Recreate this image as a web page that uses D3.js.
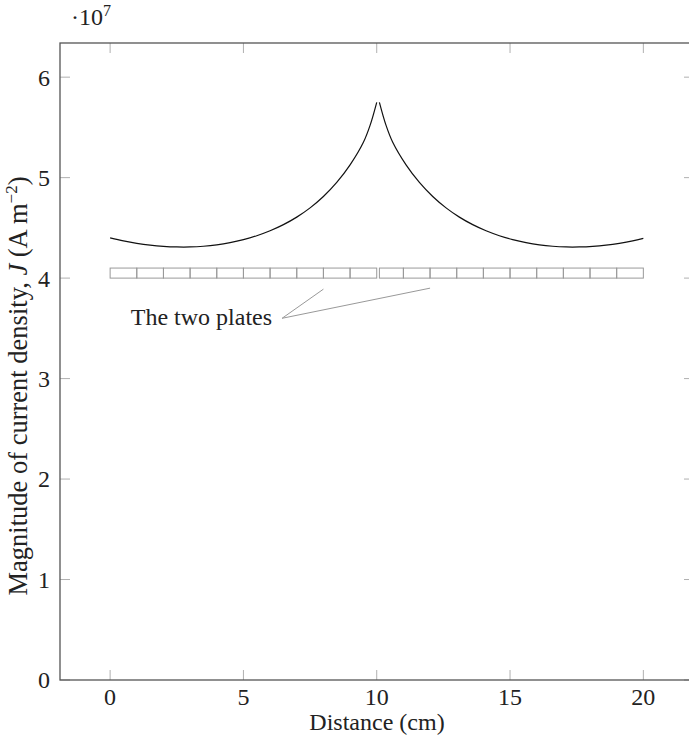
<!DOCTYPE html>
<html>
<head>
<meta charset="utf-8">
<script src="https://cdn.jsdelivr.net/npm/d3@7"></script>
<style>
  body { margin: 0; background: #fff; }
  svg { display: block; font-family: "Liberation Serif", "DejaVu Serif", serif; }
</style>
</head>
<body>
<div id="chart"></div>
<script>
const width = 689;
const height = 742;

// curve on the first plate (distance in cm, J in 1e7 A m^-2)
const leftX = [0, 0.5, 1, 1.5, 2, 2.5, 3, 3.5, 4, 4.5, 5, 5.5, 6, 6.5, 7, 7.5, 8, 8.5, 9, 9.5, 9.75, 10];
const leftJ = [4.400, 4.370, 4.346, 4.328, 4.316, 4.310, 4.310, 4.317, 4.331, 4.353, 4.383, 4.422, 4.471, 4.532, 4.607, 4.699, 4.812, 4.952, 5.127, 5.352, 5.520, 5.750];
// curve on the second plate
const rightX = [10.1, 10.35, 10.6, 11.1, 11.6, 12.1, 12.6, 13.1, 13.6, 14.1, 14.6, 15.1, 15.6, 16.1, 16.6, 17.1, 17.6, 18.1, 18.6, 19.1, 19.6, 20];
const rightJ = [5.750, 5.520, 5.352, 5.127, 4.952, 4.812, 4.699, 4.607, 4.532, 4.471, 4.422, 4.383, 4.353, 4.331, 4.317, 4.310, 4.310, 4.316, 4.328, 4.346, 4.370, 4.395];

// plate cell edges
const plate1Edges = [0, 1, 2, 3, 4, 5, 6, 7, 8, 9, 10];
const plate2Edges = [10.1, 11, 12, 13, 14, 15, 16, 17, 18, 19, 20];
const plateBottom = 4.0;
const plateTop = 4.1;

const xTicks = [0, 5, 10, 15, 20];
const yTicks = [0, 1, 2, 3, 4, 5, 6];

// annotation
const labelText = "The two plates";
const labelAt = [6.45, 3.6];
const pointers = [[8, 3.89], [12, 3.9]];

const svg = d3.select('#chart').append('svg')
    .attr('width', width)
    .attr('height', height);

const box = {left: 60, right: 694, top: 43, bottom: 680};
const x = d3.scaleLinear().domain([-1.88, 21.9]).range([box.left, box.right]);
const y = d3.scaleLinear().domain([0, 6.34]).range([box.bottom, box.top]);
const fontSize = 24;

// ticks (inward, on all four sides)
const tickLen = 10;
const tickColor = '#b0b0b0';
xTicks.forEach(t => {
    svg.append('line')
        .attr('x1', x(t)).attr('x2', x(t))
        .attr('y1', box.bottom).attr('y2', box.bottom - tickLen)
        .attr('stroke', tickColor).attr('stroke-width', 1);
    svg.append('line')
        .attr('x1', x(t)).attr('x2', x(t))
        .attr('y1', box.top).attr('y2', box.top + tickLen)
        .attr('stroke', tickColor).attr('stroke-width', 1);
    svg.append('text')
        .attr('x', x(t))
        .attr('y', 705)
        .attr('text-anchor', 'middle')
        .attr('font-size', fontSize)
        .attr('fill', '#222')
        .text(t);
});
yTicks.forEach(t => {
    svg.append('line')
        .attr('x1', box.left).attr('x2', box.left + tickLen)
        .attr('y1', y(t)).attr('y2', y(t))
        .attr('stroke', tickColor).attr('stroke-width', 1);
    svg.append('line')
        .attr('x1', box.right).attr('x2', box.right - tickLen)
        .attr('y1', y(t)).attr('y2', y(t))
        .attr('stroke', tickColor).attr('stroke-width', 1);
    svg.append('text')
        .attr('x', 50)
        .attr('y', y(t))
        .attr('dy', '0.35em')
        .attr('text-anchor', 'end')
        .attr('font-size', fontSize)
        .attr('fill', '#222')
        .text(t);
});

// frame
svg.append('rect')
    .attr('x', box.left).attr('y', box.top)
    .attr('width', box.right - box.left).attr('height', box.bottom - box.top)
    .attr('fill', 'none')
    .attr('stroke', '#555')
    .attr('stroke-width', 1.3);

// exponent
const expo = svg.append('text')
    .attr('x', 71).attr('y', 25)
    .attr('font-size', fontSize)
    .attr('fill', '#222');
expo.append('tspan').text('\u00b710');
expo.append('tspan').attr('font-size', 16).attr('dy', -9).text('7');

// plates
[plate1Edges, plate2Edges].forEach(edges => {
    svg.append('g').selectAll('rect')
        .data(d3.pairs(edges))
        .enter().append('rect')
        .attr('x', d => x(d[0]))
        .attr('y', y(plateTop))
        .attr('width', d => x(d[1]) - x(d[0]))
        .attr('height', y(plateBottom) - y(plateTop))
        .attr('fill', 'none')
        .attr('stroke', '#999')
        .attr('stroke-width', 1);
});

// current density curves
const line = d3.line()
    .x(d => x(d[0]))
    .y(d => y(d[1]))
    .curve(d3.curveCatmullRom.alpha(0.5));
[[leftX, leftJ], [rightX, rightJ]].forEach(([xs, js]) => {
    svg.append('path')
        .datum(d3.zip(xs, js))
        .attr('d', line)
        .attr('fill', 'none')
        .attr('stroke', '#111')
        .attr('stroke-width', 1.2);
});

// annotation
pointers.forEach(p => {
    svg.append('line')
        .attr('x1', x(labelAt[0])).attr('y1', y(labelAt[1]))
        .attr('x2', x(p[0])).attr('y2', y(p[1]))
        .attr('stroke', '#999')
        .attr('stroke-width', 1);
});
svg.append('text')
    .attr('x', x(labelAt[0]) - 10)
    .attr('y', y(labelAt[1]))
    .attr('dy', '0.3em')
    .attr('text-anchor', 'end')
    .attr('font-size', fontSize)
    .attr('fill', '#222')
    .text(labelText);

// axis labels
svg.append('text')
    .attr('x', (box.left + box.right) / 2)
    .attr('y', 730)
    .attr('text-anchor', 'middle')
    .attr('font-size', fontSize)
    .attr('fill', '#222')
    .text('Distance (cm)');

const yl = svg.append('text')
    .attr('transform', 'translate(27,386) rotate(-90)')
    .attr('text-anchor', 'middle')
    .attr('font-size', 26.5)
    .attr('fill', '#222');
yl.append('tspan').text('Magnitude of current density, ');
yl.append('tspan').attr('font-style', 'italic').text('J');
yl.append('tspan').text(' (A m');
yl.append('tspan').attr('font-size', 17).attr('dy', -10).text('\u22122');
yl.append('tspan').attr('dy', 10).text(')');
</script>
</body>
</html>
